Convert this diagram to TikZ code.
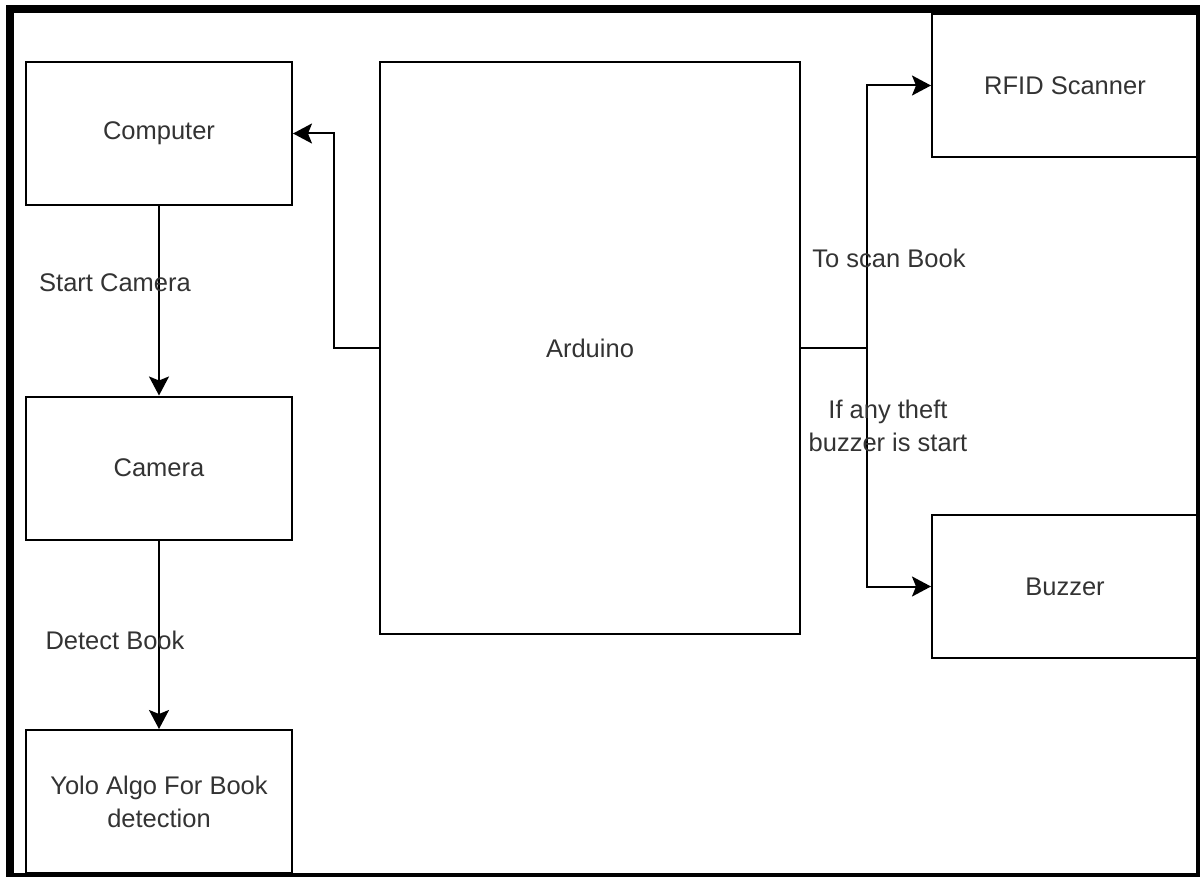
\documentclass[tikz,border=0pt]{standalone}
\usepackage{fontspec}
\setmainfont{Liberation Sans}
\usetikzlibrary{arrows.meta, positioning}

\begin{document}
\begin{tikzpicture}[x=0.5pt, y=-0.5pt,
    font=\fontsize{12.75}{16.5}\selectfont,
    box/.style={draw, line width=1pt, text=black!80, align=center,
                minimum width=133pt, minimum height=71.5pt, inner sep=0pt},
    lbl/.style={text=black!80, align=center, inner sep=0pt},
    conn/.style={line width=1pt, -{Stealth[length=9.5pt, width=10pt, inset=2pt]}}]
    \useasboundingbox (0,0) rectangle (1200,877);
    % frame of the screenshot
    \fill (6,5) rectangle (1200,13);
    \fill (6,5) rectangle (14,877);
    \fill (1196,5) rectangle (1200,877);
    \fill (6,873) rectangle (1200,877);
    % left column
    \node[box] (computer) at (159,133.5) {Computer};
    \node[box] (camera) at (159,468) {Camera};
    \node[box] (yolo) at (159,801.5) {Yolo Algo For Book\\detection};
    % middle
    \node[box, minimum width=210pt, minimum height=286pt] (arduino) at (590,348) {Arduino};
    % right column
    \node[box] (rfid) at (1065,85.5) {RFID Scanner};
    \node[box] (buzzer) at (1065,586.5) {Buzzer};
    % connectors
    \draw[conn] (arduino.west) -- ++(-45,0) |- (computer.east);
    \draw[conn] (computer.south) -- (camera.north);
    \draw[conn] (camera.south) -- (yolo.north);
    \draw[conn] (arduino.east) -- ++(66,0) |- (rfid.west);
    \draw[conn] (arduino.east) -- ++(66,0) |- (buzzer.west);
    % labels
    \node[lbl] (startlbl) at (115,283) {Start Camera};
    \node[lbl] (detectlbl) at (115,640) {Detect Book};
    \node[lbl] (scanlbl) at (889,258) {To scan Book};
    \node[lbl] (theftlbl) at (888,426) {If any theft\\buzzer is start};
\end{tikzpicture}
\end{document}
